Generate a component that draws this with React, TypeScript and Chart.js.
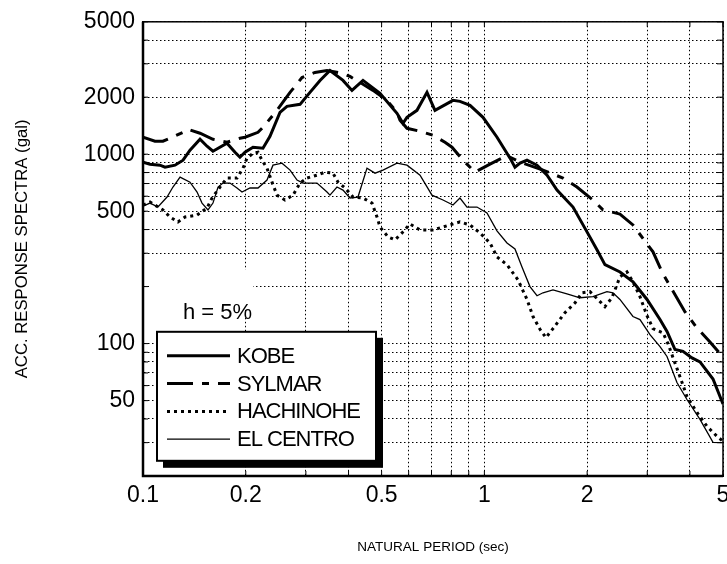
import React, { useEffect, useRef } from 'react';
import { Chart, registerables } from 'chart.js';

Chart.register(...registerables);

// ---------------- data (period in sec, acceleration in gal) ----------------
const KOBE_T = [0.1, 0.1048, 0.1121, 0.116, 0.1241, 0.131, 0.1373, 0.1469, 0.154, 0.1603, 0.1762, 0.186, 0.1923, 0.199, 0.21, 0.2246, 0.2355, 0.2519, 0.2641, 0.2884, 0.3084, 0.33, 0.3529, 0.3853, 0.4094, 0.441, 0.4946, 0.5546, 0.5774, 0.5933, 0.6346, 0.679, 0.7166, 0.8091, 0.8481, 0.9076, 0.9906, 1.089, 1.189, 1.229, 1.272, 1.333, 1.426, 1.526, 1.632, 1.818, 1.998, 2.137, 2.255, 2.496, 2.725, 2.995, 3.269, 3.427, 3.617, 3.817, 4.056, 4.281, 4.674, 5.0];
const KOBE_V = [908, 886, 875, 854, 875, 930, 1050, 1199, 1102, 1037, 1143, 1024, 964, 1024, 1089, 1075, 1244, 1663, 1789, 1833, 2120, 2452, 2768, 2452, 2172, 2452, 2095, 1644, 1456, 1566, 1704, 2120, 1704, 1924, 1901, 1811, 1566, 1229, 953, 854, 897, 930, 875, 775, 646, 526, 389, 313, 261, 239, 212, 171, 134, 116, 93, 91, 84, 80, 65, 48];

const SYLMAR_T = [0.1, 0.1084, 0.1144, 0.12, 0.131, 0.1355, 0.1469, 0.1603, 0.1762, 0.1923, 0.199, 0.2172, 0.2246, 0.2469, 0.2696, 0.2788, 0.2922, 0.319, 0.3459, 0.3853, 0.4039, 0.4321, 0.4718, 0.5184, 0.5546, 0.566, 0.5933, 0.6479, 0.707, 0.7666, 0.8037, 0.8657, 0.9384, 1.0385, 1.126, 1.189, 1.272, 1.485, 1.699, 1.867, 2.08, 2.225, 2.495, 2.724, 3.118, 3.313, 3.45, 3.87, 4.195, 4.58, 5.0];
const SYLMAR_V = [1229, 1171, 1171, 1214, 1305, 1354, 1290, 1199, 1157, 1214, 1229, 1305, 1387, 1704, 2120, 2280, 2541, 2702, 2768, 2669, 2573, 2393, 2172, 1924, 1663, 1510, 1370, 1321, 1259, 1157, 1089, 930, 804, 886, 953, 964, 908, 824, 748, 671, 573, 508, 483, 423, 305, 239, 210, 147, 121, 102, 85];

const HACH_T = [0.1, 0.1048, 0.1144, 0.12, 0.1266, 0.1328, 0.144, 0.154, 0.1593, 0.1681, 0.1762, 0.1885, 0.1963, 0.2017, 0.21, 0.2172, 0.2231, 0.2308, 0.2387, 0.2469, 0.2605, 0.2751, 0.2884, 0.3023, 0.3233, 0.3413, 0.3602, 0.3726, 0.3906, 0.4122, 0.441, 0.4686, 0.4847, 0.4946, 0.5219, 0.5472, 0.5737, 0.6053, 0.6479, 0.707, 0.7563, 0.8481, 0.9076, 0.9707, 1.0385, 1.0886, 1.1647, 1.2542, 1.3332, 1.3881, 1.4552, 1.5151, 1.5882, 1.7219, 1.8423, 1.9312, 2.038, 2.151, 2.255, 2.364, 2.495, 2.616, 2.724, 2.856, 2.995, 3.118, 3.336, 3.45, 3.568, 3.765, 3.921, 4.195, 4.487, 4.8, 5.0];
const HACH_V = [539, 559, 508, 466, 439, 466, 477, 520, 587, 671, 748, 748, 844, 953, 1012, 1024, 930, 844, 712, 608, 573, 608, 704, 748, 775, 804, 794, 712, 663, 594, 587, 552, 466, 413, 366, 353, 384, 428, 398, 398, 413, 439, 423, 384, 340, 287, 261, 217, 171, 139, 119, 107.5, 120, 145.6, 164, 185.5, 188, 171, 156.6, 174.6, 225, 239, 212, 177, 140.4, 120, 114, 100, 84.4, 64.7, 52.6, 43.3, 36.6, 32.4, 30.5];

const ELC_T = [0.1, 0.1048, 0.1106, 0.1176, 0.1224, 0.1284, 0.1373, 0.144, 0.1489, 0.155, 0.1603, 0.1659, 0.1715, 0.1798, 0.1885, 0.195, 0.2058, 0.2172, 0.2308, 0.2403, 0.2554, 0.2696, 0.2826, 0.2942, 0.3233, 0.3459, 0.3529, 0.37, 0.3853, 0.4039, 0.4263, 0.453, 0.4782, 0.5047, 0.5546, 0.5933, 0.6479, 0.7022, 0.7563, 0.8091, 0.8481, 0.8892, 0.9513, 1.0176, 1.0886, 1.1647, 1.2292, 1.2887, 1.36, 1.4262, 1.485, 1.5882, 1.7454, 1.9055, 2.08, 2.286, 2.381, 2.495, 2.724, 2.856, 3.055, 3.269, 3.427, 3.665, 3.921, 4.281, 4.674, 4.966];
const ELC_V = [532, 552, 526, 594, 671, 757, 712, 631, 552, 508, 552, 671, 704, 704, 663, 631, 663, 663, 730, 875, 897, 824, 730, 704, 704, 631, 608, 671, 646, 587, 594, 844, 794, 824, 897, 875, 775, 608, 573, 539, 587, 526, 526, 489, 394, 340, 316, 254, 200, 179, 185.5, 192, 183, 174.6, 177, 188, 185.5, 171, 139, 134, 111.5, 96.4, 85.5, 62.3, 50.7, 39.8, 30.1, 30];

const SERIES_NAMES = ['KOBE', 'SYLMAR', 'HACHINOHE', 'EL CENTRO'];
const X_GRID = [0.1, 0.2, 0.3, 0.4, 0.5, 0.6, 0.7, 0.8, 0.9, 1, 2, 3, 4, 5];
const Y_GRID = [20, 30, 40, 50, 60, 70, 80, 90, 100, 200, 300, 400, 500, 600, 700, 800, 900, 1000, 2000, 3000, 4000, 5000];
const X_LABELS = [0.1, 0.2, 0.5, 1, 2, 5];
const Y_LABELS = [50, 100, 500, 1000, 2000, 5000];
const X_TITLE = 'NATURAL PERIOD (sec)';
const Y_TITLE = 'ACC. RESPONSE SPECTRA (gal)';
const NOTE = 'h = 5%';

const zip = (t: number[], v: number[]) => t.map((x, i) => ({ x, y: v[i] }));

const FONT = '"Liberation Sans", Arial, Helvetica, sans-serif';

const overlayPlugin = {
  id: 'overlay',
  afterDraw(chart: any) {
    const { ctx, chartArea: a, scales } = chart;
    const xs = scales.x;
    const ys = scales.y;
    ctx.save();
    ctx.setLineDash([]);
    ctx.strokeStyle = '#000';
    // inner ticks
    ctx.lineWidth = 1;
    ctx.beginPath();
    X_GRID.forEach((v) => {
      const px = xs.getPixelForValue(v);
      ctx.moveTo(px, a.bottom);
      ctx.lineTo(px, a.bottom - 5);
      ctx.moveTo(px, a.top);
      ctx.lineTo(px, a.top + 5);
    });
    Y_GRID.forEach((v) => {
      const py = ys.getPixelForValue(v);
      ctx.moveTo(a.left, py);
      ctx.lineTo(a.left + 5, py);
      ctx.moveTo(a.right, py);
      ctx.lineTo(a.right - 6, py);
    });
    ctx.stroke();
    // frame
    ctx.lineWidth = 1.5;
    ctx.strokeRect(a.left, a.top, a.right - a.left, a.bottom - a.top);
    ctx.lineWidth = 2.5;
    ctx.beginPath();
    ctx.moveTo(a.left, a.top);
    ctx.lineTo(a.left, a.bottom);
    ctx.lineTo(a.right, a.bottom);
    ctx.stroke();

    // damping note
    const nx = a.left + 18;
    const ny = a.top + 270;
    ctx.fillStyle = '#fff';
    ctx.fillRect(nx - 12, ny - 22, 104, 40);
    ctx.fillStyle = '#000';
    ctx.font = `22px ${FONT}`;
    ctx.textBaseline = 'middle';
    ctx.textAlign = 'left';
    ctx.fillText(NOTE, nx + 22, ny + 21);

    // legend box with drop shadow
    const lx = a.left + 14;
    const ly = a.top + 310;
    const lw = 219;
    const lh = 129;
    ctx.fillStyle = '#000';
    ctx.fillRect(lx + 6, ly + 6, lw + 1, lh + 1);
    ctx.fillStyle = '#fff';
    ctx.fillRect(lx, ly, lw, lh);
    ctx.lineWidth = 2;
    ctx.strokeStyle = '#000';
    ctx.strokeRect(lx, ly, lw, lh);

    ctx.font = `22px ${FONT}`;
    (ctx as any).letterSpacing = '-1px';
    chart.data.datasets.forEach((ds: any, i: number) => {
      const yy = ly + 24 + i * 27.8;
      ctx.save();
      ctx.lineWidth = ds.borderWidth;
      ctx.setLineDash(ds.borderDash || []);
      ctx.lineCap = 'butt';
      ctx.beginPath();
      ctx.moveTo(lx + 10, yy);
      ctx.lineTo(lx + 73, yy);
      ctx.stroke();
      ctx.restore();
      ctx.fillStyle = '#000';
      ctx.fillText(ds.label, lx + 80, yy + 1);
    });
    (ctx as any).letterSpacing = '0px';
    ctx.restore();
  },
};

export default function App() {
  const ref = useRef<HTMLCanvasElement | null>(null);

  useEffect(() => {
    if (!ref.current) return;
    Chart.defaults.font.family = FONT;
    Chart.defaults.color = '#000';
    const chart = new Chart(ref.current, {
      type: 'line',
      data: {
        datasets: [
          { label: SERIES_NAMES[0], data: zip(KOBE_T, KOBE_V), borderColor: '#000', borderWidth: 3, pointRadius: 0, tension: 0, fill: false },
          { label: SERIES_NAMES[1], data: zip(SYLMAR_T, SYLMAR_V), borderColor: '#000', borderWidth: 3, borderDash: [26, 9, 7, 9], pointRadius: 0, tension: 0, fill: false },
          { label: SERIES_NAMES[2], data: zip(HACH_T, HACH_V), borderColor: '#000', borderWidth: 3, borderDash: [3, 4], pointRadius: 0, tension: 0, fill: false },
          { label: SERIES_NAMES[3], data: zip(ELC_T, ELC_V), borderColor: '#000', borderWidth: 1.3, pointRadius: 0, tension: 0, fill: false },
        ],
      },
      options: {
        responsive: false,
        animation: false,
        parsing: true,
        layout: { padding: { top: 21, right: 4, left: 0, bottom: 0 } },
        plugins: { legend: { display: false }, tooltip: { enabled: false } },
        scales: {
          x: {
            type: 'logarithmic',
            min: 0.1,
            max: 5,
            afterBuildTicks: (s: any) => { s.ticks = X_GRID.map((v) => ({ value: v })); },
            afterFit: (s: any) => { s.height = 88; s.paddingRight = 0; s.paddingLeft = 0; },
            ticks: {
              autoSkip: false,
              maxRotation: 0,
              padding: 6,
              font: { size: 23, family: FONT },
              color: '#000',
              callback: (v: any) => (X_LABELS.includes(Number(v)) ? String(v) : ''),
            },
            grid: { color: '#000', lineWidth: 1, drawTicks: false },
            border: { display: true, color: '#000', width: 2, dash: [1.5, 2.5] },
            title: { display: true, text: X_TITLE, font: { size: 13.5, family: FONT }, color: '#000', padding: { top: 0, bottom: 9 } },
          },
          y: {
            type: 'logarithmic',
            min: 20,
            max: 5000,
            afterBuildTicks: (s: any) => { s.ticks = Y_GRID.map((v) => ({ value: v })); },
            afterFit: (s: any) => { s.width = 143; },
            ticks: {
              autoSkip: false,
              padding: 8,
              font: { size: 23, family: FONT },
              color: '#000',
              callback: (v: any) => (Y_LABELS.includes(Number(v)) ? String(v) : ''),
            },
            grid: { color: '#000', lineWidth: 1, drawTicks: false },
            border: { display: true, color: '#000', width: 2, dash: [1.5, 2.5] },
            title: { display: true, text: Y_TITLE, font: { size: 16.7, family: FONT }, color: '#000', padding: { top: 12, bottom: 0 } },
          },
        },
      } as any,
      plugins: [overlayPlugin],
    });
    return () => chart.destroy();
  }, []);

  return (
    <div style={{ position: 'fixed', left: 0, top: 0, width: 727, height: 564, background: '#fff' }}>
      <canvas ref={ref} width={727} height={564} style={{ display: 'block', width: 727, height: 564 }} />
    </div>
  );
}
